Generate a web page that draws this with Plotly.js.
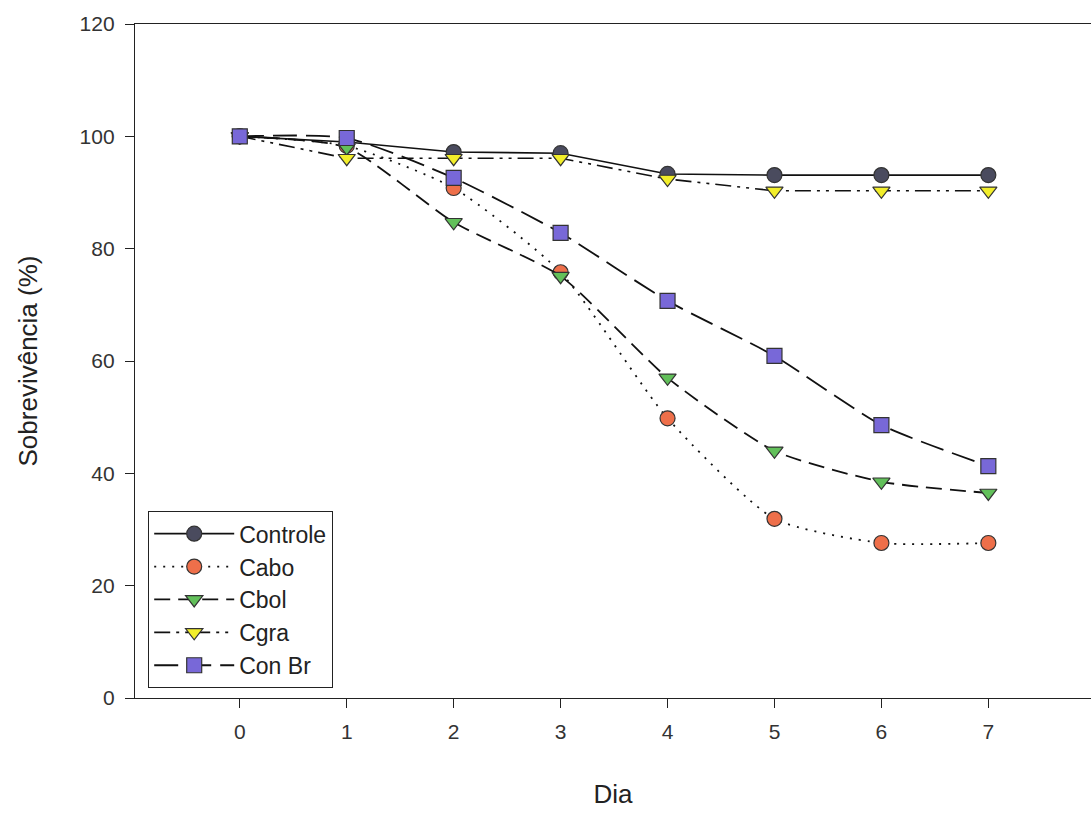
<!DOCTYPE html>
<html>
<head>
<meta charset="utf-8">
<script src="https://cdn.plot.ly/plotly-3.0.1.min.js"></script>
<style>html,body{margin:0;padding:0;background:#fff;}#chart{width:1091px;height:813px;}</style>
</head>
<body>
<div id="chart"></div>
<script>
const dias = [0, 1, 2, 3, 4, 5, 6, 7];
const controle = [100, 99, 97.2, 97, 93.3, 93.1, 93.1, 93.1];
const cabo = [100, 98.3, 90.8, 75.8, 49.8, 31.9, 27.6, 27.6];
const cbol = [100, 98, 84.7, 75.1, 57, 44, 38.5, 36.5];
const cgra = [100, 96.1, 96.1, 96.1, 92.4, 90.3, 90.3, 90.3];
const conBr = [100, 99.7, 92.6, 82.8, 70.7, 60.9, 48.6, 41.3];
const seriesNames = ["Controle", "Cabo", "Cbol", "Cgra", "Con Br"];
const xTicks = [0, 1, 2, 3, 4, 5, 6, 7];
const yTicks = [0, 20, 40, 60, 80, 100, 120];

function tr(name, y, dash, shape, symbol, color, lw) {
  return {
    x: dias, y: y, name: name, type: 'scatter', mode: 'lines+markers',
    line: {color: '#111', width: lw, dash: dash, shape: shape, smoothing: 0.6},
    marker: {symbol: symbol, size: 15, color: color, line: {color: '#333', width: 1.2}}
  };
}
const data = [
  tr(seriesNames[0], controle, 'solid', 'linear', 'circle', '#4a4b5e', 1.6),
  tr(seriesNames[1], cabo, '2px,7px', 'spline', 'circle', '#ee6f4a', 1.8),
  tr(seriesNames[2], cbol, '16px,8px', 'spline', 'triangle-down', '#62c05a', 1.8),
  tr(seriesNames[3], cgra, '16px,6px,3px,6px,3px,6px', 'linear', 'triangle-down', '#f2ee2a', 1.6),
  tr(seriesNames[4], conBr, '24px,9px', 'spline', 'square', '#7868d8', 1.8)
];
const layout = {
  width: 1091, height: 813,
  margin: {l: 135, r: 0, t: 24, b: 115},
  paper_bgcolor: '#fff', plot_bgcolor: '#fff',
  font: {family: 'Liberation Sans, Arial, sans-serif', color: '#222', size: 21},
  showlegend: true,
  legend: {
    x: 0.0136, y: 0.0148, xanchor: 'left', yanchor: 'bottom',
    bordercolor: '#222', borderwidth: 1.2, bgcolor: '#fff',
    font: {size: 23, color: '#222'}, tracegroupgap: 4,
    itemwidth: 80
  },
  xaxis: {
    range: [-0.98, 7.96], tickvals: xTicks, ticktext: xTicks.map(String),
    showgrid: false, zeroline: false, showline: true, linecolor: '#222', linewidth: 1.2,
    mirror: true, ticks: 'outside', ticklen: 9, tickcolor: '#222', tickwidth: 1,
    tickfont: {size: 21, color: '#333'}, ticklabelstandoff: 6,
    title: {text: 'Dia', font: {size: 26}, standoff: 42}
  },
  yaxis: {
    range: [0, 120], tickvals: yTicks, ticktext: yTicks.map(String),
    showgrid: false, zeroline: false, showline: true, linecolor: '#222', linewidth: 1.2,
    ticks: 'outside', ticklen: 9, tickcolor: '#222', tickwidth: 1,
    tickfont: {size: 21, color: '#333'}, ticklabelstandoff: 6,
    title: {text: 'Sobrevivência (%)', font: {size: 26}, standoff: 34}
  }
};
Plotly.newPlot('chart', data, layout, {displayModeBar: false, staticPlot: true});
</script>
</body>
</html>
